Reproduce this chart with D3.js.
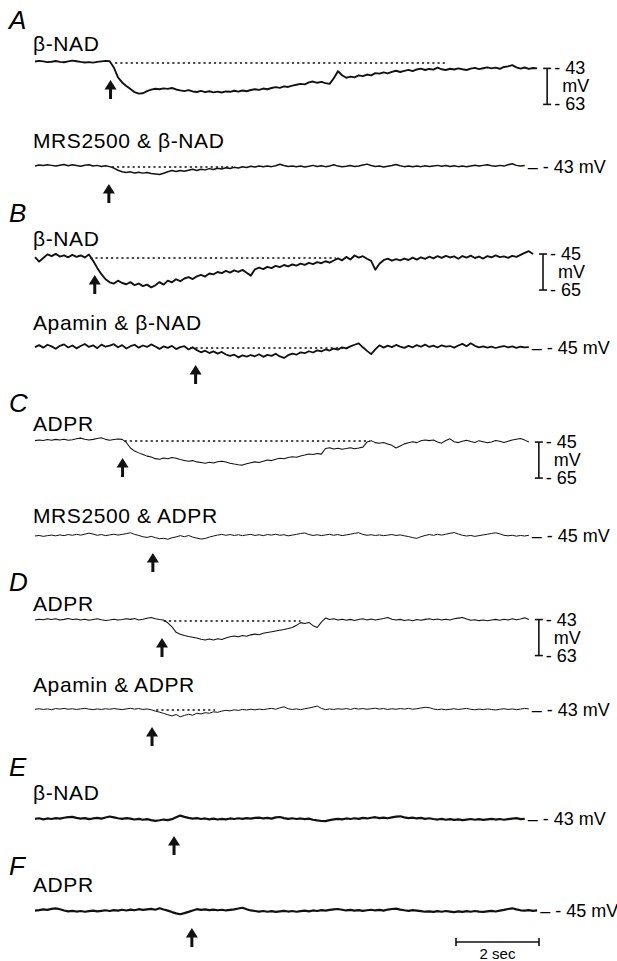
<!DOCTYPE html>
<html><head><meta charset="utf-8">
<script src="https://cdn.jsdelivr.net/npm/d3@7/dist/d3.min.js"></script>
<style>
html,body{margin:0;padding:0;background:#fff;}
svg{display:block;font-family:"Liberation Sans",Arial,Helvetica,sans-serif;}
</style></head><body>
<svg id="chart" width="617" height="961"></svg>
<script>
// ---------------- DATA ----------------
const panelLetters = ["A","B","C","D","E","F"];
const traceLabels = ["β-NAD","MRS2500 & β-NAD","β-NAD","Apamin & β-NAD","ADPR","MRS2500 & ADPR","ADPR","Apamin & ADPR","β-NAD","ADPR"];
const restPotentials = [-43,-43,-45,-45,-45,-45,-43,-43,-43,-45]; // mV
const scaleBarTraces = [0,2,4,6];
const scaleBarSpan = 20;     // mV
const timeBarSec = 2;        // s
const sampleInterval = 0.1;  // s
const arrowTimes  = [1.82,1.78,1.44,3.87,2.11,2.84,3.06,2.82,3.35,3.78]; // s
const dottedStart = [1.93,1.85,1.33,3.74,2.16,null,3.10,2.92,null,null];
const dottedEnd   = [9.90,4.77,7.25,7.54,8.06,null,6.40,4.34,null,null];

// membrane potential relative to resting level (mV), one sample per 0.1 s
const traceA1 = [0.8,1.2,0.9,0.5,0.7,1.1,0.6,0.4,0.9,1.3,1.0,0.6,0.3,0.5,0.2,0.6,0.9,1.2,1.0,-2.5,-8.0,-10.8,-12.8,-14.5,-16.2,-17.0,-16.8,-15.6,-14.8,-14.3,-14.6,-14.1,-14.4,-13.9,-14.7,-15.2,-15.6,-15.1,-15.8,-16.1,-15.5,-16.2,-15.7,-16.3,-15.9,-16.4,-15.8,-16.0,-15.4,-15.9,-15.3,-15.7,-15.0,-14.6,-14.9,-14.2,-14.6,-13.9,-13.4,-13.8,-13.0,-13.3,-12.6,-12.1,-11.6,-11.9,-10.8,-10.3,-11.0,-10.5,-11.2,-11.6,-8.5,-4.6,-6.8,-8.2,-7.6,-8.0,-6.9,-7.3,-6.4,-6.9,-5.6,-5.9,-5.2,-5.8,-4.9,-4.3,-5.0,-4.4,-3.8,-4.5,-3.6,-3.1,-3.9,-3.3,-3.7,-2.6,-3.5,-3.9,-3.2,-3.6,-3.0,-3.5,-3.9,-3.1,-2.7,-3.4,-2.9,-2.4,-3.0,-2.6,-3.2,-2.2,-1.9,-1.2,-2.4,-3.1,-2.5,-3.3,-2.8,-3.0];
const traceA2 = [0.6,1.1,0.8,1.3,0.9,0.5,1.0,1.4,0.7,1.2,0.8,0.4,1.0,1.3,0.6,0.9,0.3,0.7,0.2,-0.6,-1.8,-2.6,-3.1,-2.7,-3.3,-2.9,-3.4,-3.0,-3.6,-3.9,-4.2,-3.5,-2.6,-2.0,-2.5,-1.9,-2.4,-1.8,-1.3,-1.9,-1.2,-1.6,-0.9,-1.4,-0.7,-1.1,-0.4,-0.8,-0.2,-0.6,0.1,-0.3,0.4,0.0,0.5,0.1,0.6,0.2,0.7,1.5,0.8,0.3,0.6,0.1,0.5,0.0,0.4,0.9,0.3,0.7,0.2,0.6,1.2,0.5,0.1,0.4,0.8,0.3,0.6,1.1,1.6,0.8,0.3,0.5,0.0,0.4,0.8,1.4,0.7,0.2,0.6,0.1,0.5,0.2,0.7,0.3,0.6,0.9,0.4,0.8,0.3,0.7,0.2,0.5,0.1,0.6,1.0,0.5,0.9,1.3,0.7,0.4,0.9,0.5,1.2,1.8,0.9,0.6,0.8];
const traceB1 = [0.5,-2.0,0.0,2.0,1.0,2.3,0.8,1.5,0.4,1.7,0.6,1.4,0.3,1.9,-1.5,-5.5,-9.0,-11.8,-13.5,-14.2,-12.6,-13.9,-14.6,-13.4,-15.1,-14.2,-15.6,-14.8,-16.3,-15.2,-13.4,-14.8,-12.6,-13.5,-11.8,-12.9,-11.4,-10.6,-11.7,-10.2,-9.4,-10.3,-8.6,-9.1,-7.8,-8.4,-7.2,-8.1,-6.9,-7.7,-6.6,-8.2,-9.8,-6.3,-5.4,-6.2,-4.9,-5.6,-4.4,-5.1,-3.9,-4.7,-3.6,-4.2,-3.1,-3.8,-2.7,-3.4,-2.3,-2.9,-1.8,-2.6,-1.4,-0.2,-1.3,0.6,-0.8,1.4,0.2,1.0,-0.4,-1.6,-6.5,-3.2,-1.2,-0.4,-1.5,-0.6,-1.3,-0.3,-1.1,0.2,-0.9,0.4,-0.5,0.7,-0.2,1.0,0.1,1.2,0.3,0.9,-0.4,1.1,0.2,1.3,0.0,0.8,-0.3,1.0,0.4,1.4,0.5,0.9,0.1,1.2,0.6,1.7,2.8,3.8,2.2];
const traceB2 = [0.5,1.6,0.2,1.8,0.9,-0.4,1.2,2.0,0.3,1.4,-0.2,1.1,2.2,0.6,1.5,-0.1,1.9,0.7,1.3,2.1,0.4,1.6,-0.3,1.0,1.8,0.2,1.4,0.6,2.0,0.8,-0.5,0.9,0.1,1.2,-0.6,0.5,1.0,-0.8,0.4,-1.2,-2.4,-1.5,-2.8,-1.9,-3.1,-2.2,-3.6,-4.4,-3.7,-5.2,-4.1,-4.8,-3.9,-4.6,-3.5,-4.9,-3.8,-4.4,-3.2,-4.7,-5.5,-4.0,-3.1,-3.7,-2.4,-2.9,-1.8,-2.5,-1.3,-1.9,-0.8,-1.4,-0.3,-0.9,0.4,-0.2,0.9,1.8,2.6,0.4,-1.6,-3.4,-0.8,1.5,0.2,1.3,0.5,1.7,0.8,0.1,1.2,0.4,1.6,0.7,1.9,0.6,1.3,0.3,1.5,0.8,1.1,0.2,1.4,2.3,1.0,2.6,1.2,0.4,0.9,0.2,0.8,0.0,0.6,1.1,0.3,0.9,0.1,0.7,0.3,0.5];
const traceC1 = [0.2,0.6,0.3,0.8,0.4,0.9,0.5,1.0,0.4,0.7,1.3,1.6,1.0,0.5,0.9,1.4,1.8,0.9,0.4,0.8,1.1,0.9,-0.8,-3.9,-5.6,-6.6,-7.5,-8.4,-8.9,-9.8,-10.1,-9.4,-9.9,-9.2,-9.6,-10.3,-10.8,-11.3,-10.9,-11.6,-12.0,-12.4,-11.8,-12.2,-11.5,-11.2,-11.7,-12.3,-12.8,-13.2,-13.4,-12.7,-12.1,-11.6,-11.9,-11.2,-10.6,-10.9,-10.1,-9.6,-9.9,-9.2,-8.8,-9.0,-8.3,-7.8,-7.2,-7.5,-6.9,-7.3,-4.2,-3.8,-4.5,-4.0,-4.6,-4.2,-3.7,-4.3,-3.9,-3.4,-0.6,0.2,-0.9,-1.3,-0.8,-1.6,-2.4,-3.9,-2.8,-1.6,-1.0,-0.4,-0.9,0.1,0.6,0.2,0.5,-0.5,-1.2,0.3,1.2,-0.4,-0.9,-0.2,0.4,-0.3,-0.8,0.2,-0.4,-1.0,-0.5,0.3,-0.2,-0.9,-0.1,0.6,1.0,1.4,0.5,-0.6];
const traceC2 = [0.0,0.3,-0.2,0.2,0.5,0.1,0.6,0.2,0.8,0.4,0.9,0.5,1.0,1.6,1.1,0.4,0.8,0.2,0.6,1.0,0.5,0.9,1.3,1.8,0.9,0.3,-0.4,-0.8,-0.2,-0.9,-1.5,-1.3,-1.8,-1.0,-0.5,0.2,-0.4,0.3,-0.6,-1.2,-1.7,-1.4,-0.6,0.0,0.5,0.9,0.4,0.8,0.3,0.7,0.2,0.6,0.9,0.3,0.7,0.2,0.8,0.5,1.0,0.4,0.7,0.1,0.5,0.9,1.4,1.7,0.8,0.3,0.7,0.2,0.6,0.9,0.4,0.8,0.2,0.6,1.0,1.5,1.8,0.9,0.4,0.7,0.3,0.6,0.2,0.5,0.8,0.3,0.6,0.1,-0.3,-0.9,-1.3,-0.4,0.3,0.8,0.4,0.9,0.5,1.0,1.5,1.9,1.1,0.4,0.0,0.3,-0.2,0.2,0.6,1.0,1.4,1.8,1.2,0.4,0.1,0.4,-0.1,0.3,0.0,0.4];
const traceD1 = [0.6,1.0,0.7,1.2,0.8,1.3,0.5,0.9,1.4,0.8,1.1,0.6,1.0,0.4,0.8,1.2,0.7,0.3,0.6,1.0,0.5,0.8,1.2,0.9,1.4,0.6,1.0,1.5,2.0,1.3,0.8,0.5,-1.0,-3.2,-6.3,-7.4,-8.1,-8.6,-9.0,-9.5,-10.1,-10.6,-10.0,-10.5,-9.9,-10.3,-9.4,-8.8,-8.3,-8.7,-8.1,-8.5,-7.7,-7.3,-7.6,-6.8,-6.4,-6.0,-5.5,-5.1,-4.7,-4.2,-3.6,-2.4,-0.9,-1.4,-0.8,-2.6,-3.6,-0.6,1.6,0.8,1.3,0.5,1.0,0.4,0.9,0.3,0.8,1.2,0.6,1.1,0.5,1.0,1.4,2.0,1.0,0.5,0.9,0.3,0.7,0.2,0.8,0.4,0.9,1.3,0.7,1.1,0.6,1.0,0.5,1.2,1.6,2.0,1.1,0.4,0.7,0.2,0.6,0.1,0.5,0.9,0.4,1.0,0.6,1.3,0.7,1.1,1.8,0.8];
const traceD2 = [0.4,0.7,0.3,0.6,0.2,0.8,0.5,0.9,0.4,0.7,0.3,0.6,0.9,0.5,0.2,0.6,0.3,0.7,0.4,0.8,0.5,0.2,0.6,0.9,0.5,0.8,0.3,0.6,0.1,-0.6,-1.2,-1.9,-2.6,-3.3,-2.5,-3.8,-3.0,-2.4,-2.9,-1.8,-2.2,-1.5,-1.8,-1.0,-1.3,-0.6,-0.2,-0.5,0.1,-0.2,0.3,0.0,0.4,0.1,0.5,0.2,0.6,0.9,0.4,1.2,1.8,0.7,0.3,0.6,0.2,0.7,1.1,1.6,2.2,0.9,0.2,0.6,0.3,0.7,0.4,0.8,0.3,0.9,0.5,0.8,0.4,0.7,1.0,0.5,0.8,0.3,0.7,0.4,0.8,0.5,0.9,0.4,0.7,1.1,1.5,1.3,0.6,0.2,0.5,0.1,0.4,0.7,0.3,0.6,0.9,0.4,0.1,0.5,0.2,0.6,0.3,0.0,0.4,0.7,0.3,0.6,0.2,0.5,0.9,0.6];
const traceE  = [0.1,0.4,-0.2,0.3,0.0,0.5,0.2,0.7,1.0,1.2,0.6,0.2,0.5,-0.1,0.3,0.6,0.2,0.8,1.4,0.9,0.4,0.1,0.5,0.2,-0.3,0.1,-0.4,-0.1,-0.6,-1.0,-0.7,-0.3,-0.6,-0.1,1.0,1.9,1.2,0.6,0.2,0.5,0.0,0.3,-0.2,0.2,-0.3,0.1,-0.2,0.3,0.0,0.4,0.1,0.5,0.2,0.6,0.8,0.3,0.6,0.2,0.9,1.1,0.5,0.1,0.4,0.0,0.3,-0.1,0.2,-0.4,-0.8,-1.1,-1.2,-0.6,-0.2,0.1,-0.2,0.3,0.0,0.4,0.1,0.6,0.3,0.7,1.0,0.5,0.8,0.4,0.9,1.3,1.5,0.9,0.5,0.8,0.3,0.6,0.1,0.4,0.0,-0.3,0.1,-0.4,-0.1,-0.5,-0.2,-0.6,-0.3,0.0,-0.4,-0.1,-0.5,-0.2,0.1,-0.3,0.0,-0.4,-0.1,0.2,0.5,-0.1,0.1];
const traceF  = [0.2,0.5,0.9,0.6,1.2,1.5,1.0,0.3,-0.2,0.1,-0.3,0.0,-0.4,-0.1,0.2,-0.2,0.1,0.4,0.0,0.5,0.2,0.7,0.3,0.8,0.4,1.0,0.6,0.9,1.2,0.7,1.5,0.8,0.2,-0.6,-1.3,-1.8,-1.2,-0.5,0.3,1.0,0.6,0.9,0.5,0.8,0.4,0.7,0.3,0.6,0.9,1.4,1.8,1.0,0.3,0.0,-0.3,0.0,-0.4,-0.1,-0.5,-0.2,0.1,-0.3,0.0,-0.4,-0.1,0.2,-0.2,0.3,0.0,0.5,0.2,0.6,0.9,1.1,0.7,0.3,0.6,0.2,0.5,0.1,0.4,0.7,0.3,0.6,0.2,0.8,1.1,1.3,0.8,0.4,0.1,0.5,0.2,-0.1,-0.4,-0.2,-0.5,-0.1,-0.4,0.0,-0.3,-0.6,-0.2,-0.5,-0.1,-0.4,0.0,-0.3,-0.5,-0.2,0.1,-0.3,0.2,0.6,1.1,1.5,0.9,0.4,0.2,0.5,0.1,0.3];
const traces = [traceA1,traceA2,traceB1,traceB2,traceC1,traceC2,traceD1,traceD2,traceE,traceF];

// ---------------- LAYOUT (positions / styles) ----------------
const letterY = [20,213,403,582,767,866];
const labelY  = [43,140,238,322,423,515,603,684,792,884];
const baseY   = [63,167,258,348,441,536,621,710,819,911];
const strokeW = [1.9,1.5,1.9,1.8,1.05,1.0,1.05,1.0,2.2,2.2];
const pxPerMV = 1.8;

const svg = d3.select("#chart");
const x = d3.scaleLinear().domain([0,12]).range([35,35+12*41.5]);

// panel letters
svg.selectAll("text.letter").data(panelLetters).join("text")
  .attr("class","letter").attr("x",9).attr("y",(d,i)=>letterY[i])
  .attr("dominant-baseline","central").attr("font-size",26).attr("font-style","italic")
  .text(d=>d);

// trace labels
svg.selectAll("text.tlabel").data(traceLabels).join("text")
  .attr("class","tlabel").attr("x",33).attr("y",(d,i)=>labelY[i])
  .attr("dominant-baseline","central").attr("font-size",21).attr("letter-spacing",0.6).text(d=>d);

traces.forEach((vals,i)=>{
  const y = d3.scaleLinear().domain([0,-scaleBarSpan]).range([baseY[i], baseY[i]+scaleBarSpan*pxPerMV]);
  const g = svg.append("g");
  // dotted baseline
  if(dottedStart[i]!==null){
    g.append("line").attr("x1",x(dottedStart[i])).attr("x2",x(dottedEnd[i]))
      .attr("y1",y(0)).attr("y2",y(0)).attr("stroke","#111").attr("stroke-width",1.3)
      .attr("stroke-dasharray","2.2,3");
  }
  // trace
  const line = d3.line().x((d,k)=>x(k*sampleInterval)).y(d=>y(d)).curve(d3.curveLinear);
  g.append("path").datum(vals).attr("d",line).attr("fill","none")
    .attr("stroke","#111").attr("stroke-width",strokeW[i]).attr("stroke-linejoin","round");
  // arrow
  const ax = x(arrowTimes[i]), tip = baseY[i]+17;
  g.append("path").attr("d",`M${ax},${tip} L${ax-6},${tip+9.5} L${ax-1.5},${tip+9.5} L${ax-1.5},${tip+19} L${ax+1.5},${tip+19} L${ax+1.5},${tip+9.5} L${ax+6},${tip+9.5} Z`)
    .attr("fill","#111");
  const lastT = (vals.length-1)*sampleInterval;
  const last = vals[vals.length-1];
  if(scaleBarTraces.includes(i)){
    const bx = x(lastT)+10, top = y(last), bot = y(last-scaleBarSpan);
    g.append("line").attr("x1",bx).attr("x2",bx).attr("y1",top).attr("y2",bot).attr("stroke","#111").attr("stroke-width",1.6);
    [top,bot].forEach(yy=>g.append("line").attr("x1",bx-4).attr("x2",bx+4).attr("y1",yy).attr("y2",yy).attr("stroke","#111").attr("stroke-width",1.6));
    const fs = 18;
    g.append("text").attr("x",bx+7).attr("y",top).attr("dominant-baseline","central").attr("font-size",fs).text("- "+(-restPotentials[i]));
    g.append("text").attr("x",bx+15).attr("y",(top+bot)/2).attr("dominant-baseline","central").attr("font-size",fs).text("mV");
    g.append("text").attr("x",bx+7).attr("y",bot).attr("dominant-baseline","central").attr("font-size",fs).text("- "+(-(restPotentials[i]-scaleBarSpan)));
  } else {
    g.append("text").attr("x",x(lastT)+3).attr("y",y(0)).attr("dominant-baseline","central")
      .attr("font-size",18).text("– - "+(-restPotentials[i])+" mV");
  }
});

// time scale bar
const tb1 = 539, tb0 = tb1-(x(timeBarSec)-x(0)), tby = 942;
svg.append("line").attr("x1",tb0).attr("x2",tb1).attr("y1",tby).attr("y2",tby).attr("stroke","#111").attr("stroke-width",1.6);
[tb0,tb1].forEach(xx=>svg.append("line").attr("x1",xx).attr("x2",xx).attr("y1",tby-4).attr("y2",tby+4).attr("stroke","#111").attr("stroke-width",1.6));
svg.append("text").attr("x",(tb0+tb1)/2).attr("y",953).attr("text-anchor","middle").attr("dominant-baseline","central").attr("font-size",15).text(timeBarSec+" sec");
</script></body></html>
